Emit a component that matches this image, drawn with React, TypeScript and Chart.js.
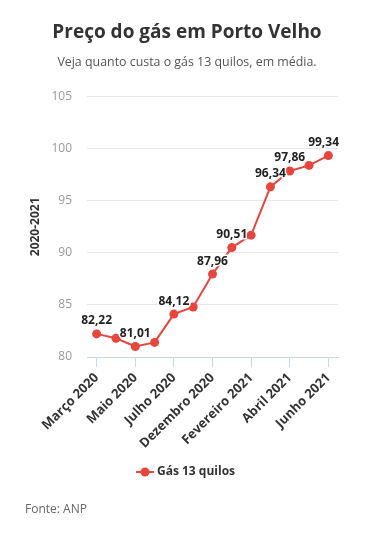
import React, { useEffect, useRef } from "react";
import { Chart, registerables } from "chart.js";

Chart.register(...registerables);

const categories = [
  "Março 2020", "Abril 2020", "Maio 2020", "Junho 2020", "Julho 2020", "Novembro 2020",
  "Dezembro 2020", "Janeiro 2021", "Fevereiro 2021", "Março 2021", "Abril 2021", "Maio 2021", "Junho 2021",
];
const values = [82.22, 81.8, 81.01, 81.4, 84.12, 84.8, 87.96, 90.51, 91.7, 96.34, 97.86, 98.4, 99.34];
const labeledIdx = [0, 2, 4, 6, 7, 9, 10, 12];
const yTicks = [80, 85, 90, 95, 100, 105];
const seriesName = "Gás 13 quilos";
const titleText = "Preço do gás em Porto Velho";
const subtitleText = "Veja quanto custa o gás 13 quilos, em média.";
const sourceText = "Fonte: ANP";
const yTitle = "2020-2021";

const RED = "#e8453c";
const FONT = "'Open Sans', sans-serif";

function legendMarker() {
  const c = document.createElement("canvas");
  c.width = 18;
  c.height = 10;
  const ctx = c.getContext("2d")!;
  ctx.strokeStyle = RED;
  ctx.lineWidth = 2;
  ctx.beginPath();
  ctx.moveTo(0, 5);
  ctx.lineTo(18, 5);
  ctx.stroke();
  ctx.fillStyle = RED;
  ctx.beginPath();
  ctx.arc(9, 5, 4.5, 0, Math.PI * 2);
  ctx.fill();
  return c;
}

export default function App() {
  const ref = useRef<HTMLCanvasElement>(null);
  useEffect(() => {
    document.body.style.margin = "0";
    const marker = legendMarker();
    const dataLabels = {
      id: "dataLabels",
      afterDatasetsDraw(chart: any) {
        const ctx = chart.ctx;
        const meta = chart.getDatasetMeta(0);
        ctx.save();
        ctx.font = `bold 12px ${FONT}`;
        ctx.textAlign = "center";
        ctx.textBaseline = "middle";
        labeledIdx.forEach((i) => {
          const p = meta.data[i];
          const txt = values[i].toFixed(2).replace(".", ",");
          let x = p.x;
          const w = ctx.measureText(txt).width;
          if (x + w / 2 > chart.width - 35) x = chart.width - 35 - w / 2;
          ctx.lineWidth = 3;
          ctx.strokeStyle = "#ffffff";
          ctx.lineJoin = "round";
          ctx.strokeText(txt, x, p.y - 13);
          ctx.fillStyle = "#222";
          ctx.fillText(txt, x, p.y - 13);
        });
        ctx.restore();
      },
    };
    const source = {
      id: "source",
      afterDraw(chart: any) {
        const ctx = chart.ctx;
        ctx.save();
        ctx.font = `12px ${FONT}`;
        ctx.fillStyle = "#666";
        ctx.textAlign = "left";
        ctx.textBaseline = "middle";
        ctx.fillText(sourceText, 25, 510);
        ctx.restore();
      },
    };
    const chart = new Chart(ref.current!, {
      type: "line",
      data: {
        labels: categories,
        datasets: [
          {
            label: seriesName,
            data: values,
            borderColor: RED,
            backgroundColor: RED,
            borderWidth: 2,
            pointRadius: 4.5,
            pointHoverRadius: 4.5,
            pointBorderWidth: 0,
            pointBackgroundColor: RED,
            tension: 0,
          },
        ],
      },
      options: {
        animation: false,
        responsive: false,
        maintainAspectRatio: false,
        layout: { padding: { left: 0, right: 0, top: 0, bottom: 45 } },
        plugins: {
          title: {
            display: true,
            text: titleText,
            color: "#333",
            font: { family: FONT, size: 19, weight: "bold" },
            padding: { top: 21, bottom: 7 },
          },
          subtitle: {
            display: true,
            text: subtitleText,
            color: "#555",
            font: { family: FONT, size: 12.4 },
            padding: { top: 4, bottom: 27 },
          },
          legend: {
            position: "bottom",
            labels: {
              usePointStyle: true,
              pointStyle: marker as any,
              color: "#333",
              font: { family: FONT, size: 12, weight: "bold" },
              padding: 10,
            },
          },
          tooltip: { enabled: false },
        },
        scales: {
          x: {
            offset: true,
            afterFit(scale: any) {
              scale.height = 99;
              scale.paddingLeft = 0;
              scale.paddingRight = 36;
            },
            grid: {
              display: true,
              drawOnChartArea: false,
              drawTicks: true,
              tickLength: 10,
              color: "#ccd6eb",
            },
            border: { display: true, color: "#ccd6eb" },
            ticks: {
              autoSkip: true,
              maxRotation: 45,
              minRotation: 45,
              color: "#333",
              font: { family: FONT, size: 13, weight: "bold" },
              padding: 3,
            },
          },
          y: {
            min: 80,
            max: 105,
            afterBuildTicks(scale: any) {
              scale.ticks = yTicks.map((v) => ({ value: v }));
            },
            afterFit(scale: any) {
              scale.width = 87;
            },
            grid: { color: "#e6e6e6", drawTicks: false },
            border: { display: false },
            ticks: {
              color: "#999",
              font: { family: FONT, size: 12 },
              padding: 15,
            },
            title: {
              display: true,
              text: yTitle,
              color: "#333",
              font: { family: FONT, size: 12, weight: "bold" },
              padding: { top: 28, bottom: 0 },
            },
          },
        },
      },
      plugins: [dataLabels, source],
    });
    return () => chart.destroy();
  }, []);
  return (
    <div style={{ width: 374, height: 533, background: "#fff" }}>
      <canvas ref={ref} width={374} height={533} style={{ display: "block" }} />
    </div>
  );
}
